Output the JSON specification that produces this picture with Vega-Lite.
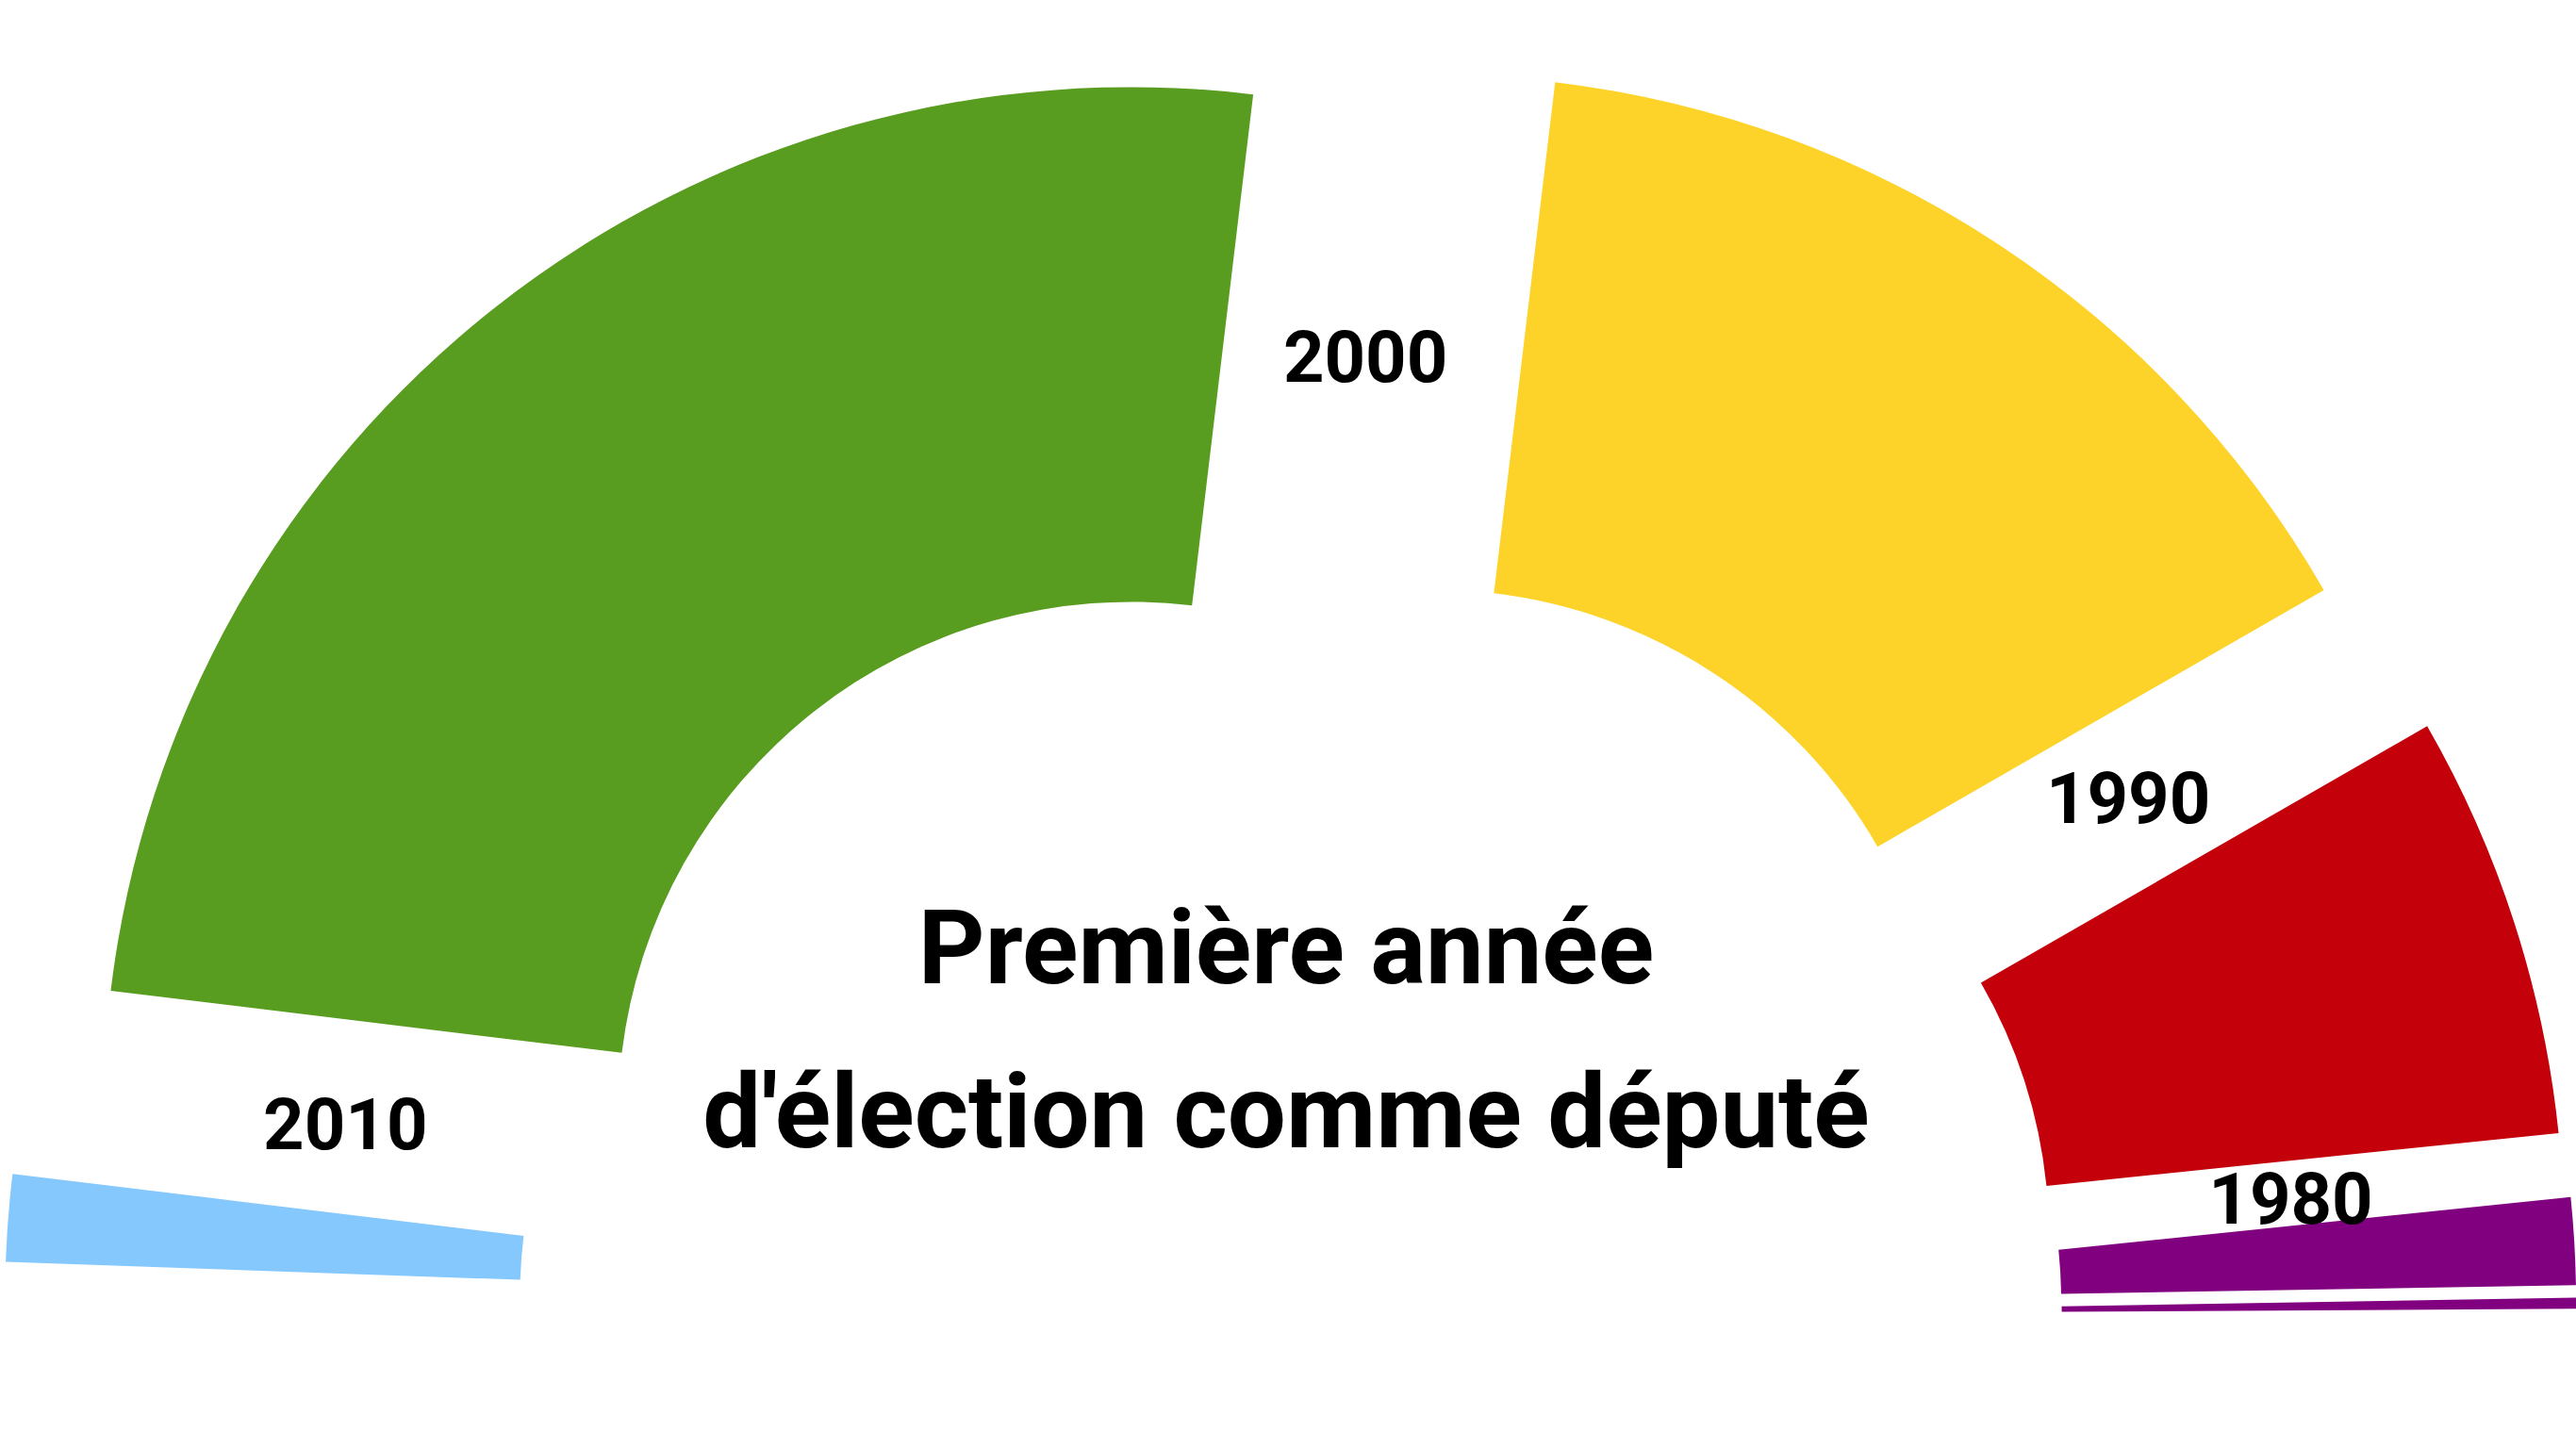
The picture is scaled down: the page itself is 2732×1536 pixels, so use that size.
{
  "$schema": "https://vega.github.io/schema/vega-lite/v6.json",
  "width": 2732,
  "height": 1536,
  "padding": 0,
  "autosize": {"type": "none"},
  "background": "#ffffff",
  "config": {"view": {"stroke": null}, "text": {"font": "Roboto"}},
  "layer": [
    {
      "data": {"values": [
        {"decade": 2010, "seats": 16},
        {"decade": 2000, "seats": 292},
        {"decade": 1990, "seats": 173},
        {"decade": 1980, "seats": 78},
        {"decade": 1970, "seats": 16},
        {"decade": 1960, "seats": 2}
      ]},
      "transform": [
        {"stack": "seats", "groupby": [], "sort": [{"field": "decade", "order": "descending"}], "as": ["t0", "t1"]}
      ],
      "encoding": {
        "theta": {"field": "t0", "type": "quantitative", "stack": null, "scale": {"domain": [0, 577], "range": [-1.53589, 1.56469]}},
        "color": {"field": "decade", "type": "nominal", "scale": {"domain": [2010, 2000, 1990, 1980, 1970, 1960], "range": ["#85C8FE", "#589D1F", "#FDD329", "#C4000B", "#800080", "#800080"]}, "legend": null}
      },
      "layer": [
        {"transform": [{"filter": {"field": "decade", "equal": 2010}}], "mark": {"type": "arc", "innerRadius": 544, "outerRadius": 1090, "xOffset": -270.6, "yOffset": 608.6}, "encoding": {"theta2": {"field": "t1"}}},
        {"transform": [{"filter": {"field": "decade", "equal": 2000}}], "mark": {"type": "arc", "innerRadius": 544, "outerRadius": 1090, "xOffset": -166.5, "yOffset": 414.4}, "encoding": {"theta2": {"field": "t1"}}},
        {"transform": [{"filter": {"field": "decade", "equal": 1990}}], "mark": {"type": "arc", "innerRadius": 544, "outerRadius": 1090, "xOffset": 153.7, "yOffset": 401.4}, "encoding": {"theta2": {"field": "t1"}}},
        {"transform": [{"filter": {"field": "decade", "equal": 1980}}], "mark": {"type": "arc", "innerRadius": 544, "outerRadius": 1090, "xOffset": 263.3, "yOffset": 545.8}, "encoding": {"theta2": {"field": "t1"}}},
        {"transform": [{"filter": {"field": "decade", "equal": 1970}}], "mark": {"type": "arc", "innerRadius": 544, "outerRadius": 1090, "xOffset": 276.1, "yOffset": 613.7}, "encoding": {"theta2": {"field": "t1"}}},
        {"transform": [{"filter": {"field": "decade", "equal": 1960}}], "mark": {"type": "arc", "innerRadius": 544, "outerRadius": 1090, "xOffset": 276.6, "yOffset": 626.9}, "encoding": {"theta2": {"field": "t1"}}},
        {"transform": [{"filter": {"field": "decade", "equal": 2010}}], "mark": {"type": "text", "radius": 793, "dx": -212.5, "dy": 523.5, "fontSize": 76, "fontWeight": "bold", "align": "center", "baseline": "middle"}, "encoding": {"theta": {"field": "t1", "type": "quantitative", "stack": null}, "text": {"field": "decade", "type": "nominal"}, "color": {"value": "#000000"}}},
        {"transform": [{"filter": {"field": "decade", "equal": 2000}}], "mark": {"type": "text", "radius": 793, "dx": -12.2, "dy": 400.9, "fontSize": 76, "fontWeight": "bold", "align": "center", "baseline": "middle"}, "encoding": {"theta": {"field": "t1", "type": "quantitative", "stack": null}, "text": {"field": "decade", "type": "nominal"}, "color": {"value": "#000000"}}},
        {"transform": [{"filter": {"field": "decade", "equal": 1990}}], "mark": {"type": "text", "radius": 793, "dx": 203.7, "dy": 477.4, "fontSize": 76, "fontWeight": "bold", "align": "center", "baseline": "middle"}, "encoding": {"theta": {"field": "t1", "type": "quantitative", "stack": null}, "text": {"field": "decade", "type": "nominal"}, "color": {"value": "#000000"}}},
        {"transform": [{"filter": {"field": "decade", "equal": 1980}}], "mark": {"type": "text", "radius": 793, "dx": 274.7, "dy": 588.8, "fontSize": 76, "fontWeight": "bold", "align": "center", "baseline": "middle"}, "encoding": {"theta": {"field": "t1", "type": "quantitative", "stack": null}, "text": {"field": "decade", "type": "nominal"}, "color": {"value": "#000000"}}}
      ]
    },
    {
      "data": {"values": [{}]},
      "mark": {"type": "text", "text": ["Première année", "d'élection comme député"], "fontSize": 110, "fontWeight": "bold", "align": "center", "baseline": "alphabetic", "lineHeight": 174, "dx": -2, "dy": 275, "color": "#000000"}
    }
  ]
}
